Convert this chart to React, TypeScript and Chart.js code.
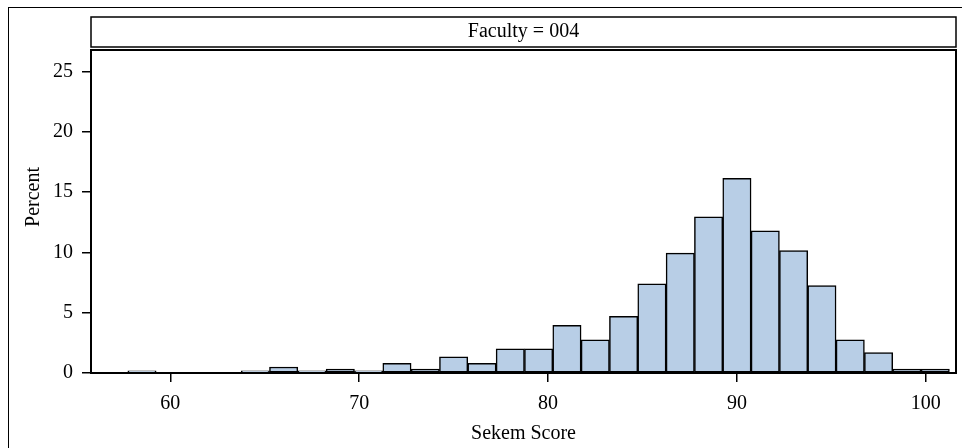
import React, { useEffect, useRef } from "react";
import { Chart, registerables } from "chart.js";

Chart.register(...registerables);

// ---- data ----
const binCenters = [
  57, 58.5, 60, 61.5, 63, 64.5, 66, 67.5, 69, 70.5, 72, 73.5, 75, 76.5, 78,
  79.5, 81, 82.5, 84, 85.5, 87, 88.5, 90, 91.5, 93, 94.5, 96, 97.5, 99, 100.5,
];
const percentValues = [
  0, 0.17, 0, 0, 0, 0.17, 0.5, 0.17, 0.33, 0.17, 0.8, 0.33, 1.35, 0.8, 2.0,
  2.0, 3.95, 2.75, 4.7, 7.4, 9.95, 12.95, 16.15, 11.8, 10.15, 7.25, 2.75, 1.7,
  0.33, 0.33,
];
const xTickValues = [60, 70, 80, 90, 100];
const yTickValues = [0, 5, 10, 15, 20, 25];
const panelLabel = "Faculty = 004";
const xTitle = "Sekem Score";
const yTitle = "Percent";

const FONT = "'Liberation Serif', 'Times New Roman', serif";
const FONT_SIZE = 20;

const framePlugin = {
  id: "samFrame",
  afterDraw(chart: any) {
    const { ctx, chartArea: a } = chart;
    ctx.save();
    ctx.strokeStyle = "#000";
    // outer graph border
    ctx.lineWidth = 1;
    ctx.strokeRect(8.5, 7.5, 3000, 3000);
    // plot wall
    ctx.lineWidth = 2;
    ctx.strokeRect(a.left, a.top, a.right - a.left, a.bottom - a.top);
    // panel header
    ctx.lineWidth = 1.5;
    ctx.strokeRect(a.left, 17, a.right - a.left, 30);
    ctx.fillStyle = "#000";
    ctx.font = `${FONT_SIZE}px ${FONT}`;
    ctx.textAlign = "center";
    ctx.textBaseline = "middle";
    ctx.fillText(panelLabel, (a.left + a.right) / 2, 32);
    // x title
    ctx.textBaseline = "alphabetic";
    ctx.fillText(xTitle, (a.left + a.right) / 2, 439);
    // y title
    ctx.translate(39, 197);
    ctx.rotate(-Math.PI / 2);
    ctx.fillText(yTitle, 0, 0);
    ctx.restore();
  },
};

export default function App() {
  const ref = useRef<HTMLCanvasElement | null>(null);

  useEffect(() => {
    if (!ref.current) return;
    const chart = new Chart(ref.current, {
      type: "bar",
      data: {
        datasets: [
          {
            data: binCenters.map((x, i) => ({ x, y: percentValues[i] })),
            backgroundColor: "#B8CEE6",
            borderColor: "#000",
            borderWidth: 1.5,
            borderSkipped: false,
            barPercentage: 1,
            categoryPercentage: 1,
          },
        ],
      },
      options: {
        responsive: false,
        animation: false,
        events: [],
        layout: { padding: { left: 0, right: 6, top: 50, bottom: 0 } },
        plugins: {
          legend: { display: false },
          tooltip: { enabled: false },
          title: { display: false },
        },
        scales: {
          x: {
            type: "linear",
            min: 55.8,
            max: 101.6,
            offset: false,
            afterBuildTicks: (axis: any) => {
              axis.ticks = xTickValues.map((v) => ({ value: v }));
            },
            afterFit: (axis: any) => {
              axis.height = 75;
            },
            grid: {
              display: true,
              drawOnChartArea: false,
              drawTicks: true,
              tickLength: 9,
              color: "#000",
              lineWidth: 1.5,
              offset: false,
            },
            border: { display: true, color: "#000", width: 2 },
            ticks: {
              color: "#000",
              padding: 10,
              maxRotation: 0,
              autoSkip: false,
              font: { family: FONT, size: FONT_SIZE },
            },
          },
          y: {
            type: "linear",
            min: 0,
            max: 26.8,
            afterBuildTicks: (axis: any) => {
              axis.ticks = yTickValues.map((v) => ({ value: v }));
            },
            afterFit: (axis: any) => {
              axis.width = 91;
            },
            grid: {
              display: true,
              drawOnChartArea: false,
              drawTicks: true,
              tickLength: 9,
              color: "#000",
              lineWidth: 1.5,
            },
            border: { display: true, color: "#000", width: 2 },
            ticks: {
              color: "#000",
              padding: 9,
              autoSkip: false,
              font: { family: FONT, size: FONT_SIZE },
            },
          },
        },
      },
      plugins: [framePlugin],
    });
    return () => chart.destroy();
  }, []);

  return (
    <div style={{ position: "absolute", left: 0, top: 0, width: 962, height: 448, background: "#fff" }}>
      <canvas ref={ref} width={962} height={448} style={{ display: "block" }} />
    </div>
  );
}
